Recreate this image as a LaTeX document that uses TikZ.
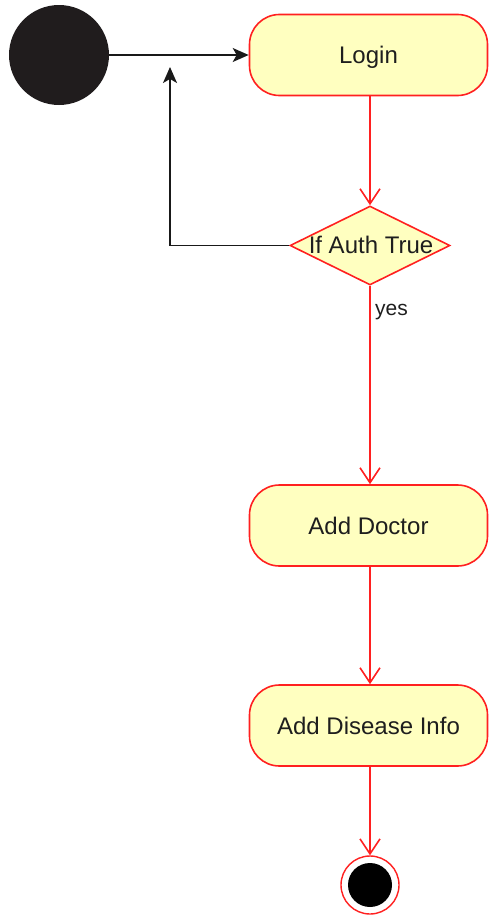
\documentclass[tikz,border=0pt]{standalone}
\usepackage{fontspec}
\setmainfont{Liberation Sans}
\usetikzlibrary{shapes.geometric,arrows.meta}
\definecolor{actfill}{HTML}{FFFFC0}
\definecolor{actline}{HTML}{FF2020}
\definecolor{startfill}{HTML}{201C1D}
\definecolor{txt}{HTML}{1E1E1E}
\tikzset{
  activity/.style={draw=actline, fill=actfill, line width=1.6pt, rounded corners=30pt,
    minimum width=238pt, minimum height=81pt, inner sep=0pt, text=txt,
    font=\fontsize{24}{28}\selectfont, text height=17pt, text depth=0pt},
  decision/.style={diamond, aspect=2, draw=actline, fill=actfill, line width=1.6pt,
    minimum width=160pt, minimum height=79pt, inner sep=0pt},
  redflow/.style={draw=actline, line width=1.6pt, -{Straight Barb[length=15pt,width=20pt,line width=1.6pt]}},
  blackflow/.style={draw=black!90, line width=1.6pt, -{Stealth[length=16pt,width=14pt,inset=4pt]}},
  lbl/.style={text=txt, font=\fontsize{24}{28}\selectfont, inner sep=0pt, text height=17pt, text depth=0pt},
}
\begin{document}
\begin{tikzpicture}[x=1pt,y=-1pt]
\useasboundingbox (0,0) rectangle (488,918);
\node[circle, fill=startfill, minimum size=100pt, inner sep=0pt] (start) at (59,55) {};
\node[activity] (login) at (368.5,55) {Login};
\node[decision] (dec) at (370,245.5) {};
\node[lbl] (dectext) at (371,245) {If Auth True};
\node[activity] (doctor) at (368.5,525.5) {Add Doctor};
\node[activity] (disease) at (368.5,725.5) {Add Disease Info};
\node[circle, draw=actline, fill=white, line width=1.4pt, minimum size=58pt, inner sep=0pt] (end) at (370,885) {};
\node[circle, fill=black, minimum size=44pt, inner sep=0pt] (endcore) at (end.center) {};
\coordinate (looptip) at (170,67);

\draw[blackflow] (start.east) -- (start.east -| login.west);
\draw[redflow] (login.south -| dec.north) -- (dec.north);
\draw[blackflow] (dec.west) -| (looptip);
\draw[redflow] (dec.south) -- node[pos=0.13, right, xshift=1pt, text=txt, font=\fontsize{21}{25}\selectfont] (yes) {yes} (doctor.north -| dec.south);
\draw[redflow] (doctor.south -| end.north) -- (disease.north -| end.north);
\draw[redflow] (disease.south -| end.north) -- (end.north);
\end{tikzpicture}
\end{document}
